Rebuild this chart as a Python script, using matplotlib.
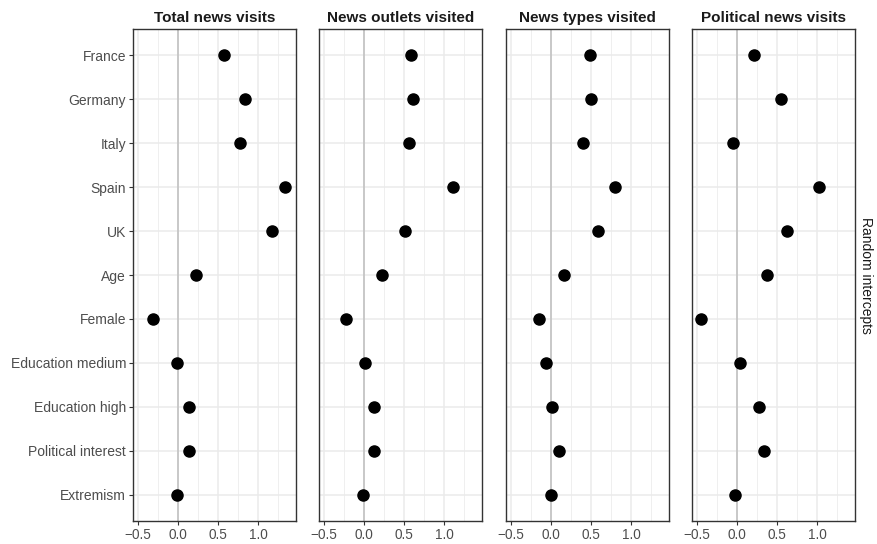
import matplotlib
matplotlib.use("Agg")
import matplotlib.pyplot as plt
from matplotlib.ticker import FixedLocator

plt.rcParams['font.family'] = ['Liberation Sans', 'DejaVu Sans']

categories = ["France", "Germany", "Italy", "Spain", "UK", "Age", "Female",
              "Education medium", "Education high", "Political interest", "Extremism"]
panels = ["Total news visits", "News outlets visited", "News types visited", "Political news visits"]

total_news = [0.58, 0.84, 0.78, 1.34, 1.18, 0.22, -0.31, -0.015, 0.14, 0.14, -0.012]
outlets = [0.59, 0.61, 0.56, 1.11, 0.51, 0.22, -0.23, 0.01, 0.12, 0.12, -0.017]
types = [0.49, 0.50, 0.40, 0.80, 0.59, 0.16, -0.145, -0.062, 0.008, 0.10, -0.004]
political = [0.21, 0.55, -0.054, 1.025, 0.63, 0.37, -0.45, 0.04, 0.27, 0.34, -0.03]
series = [total_news, outlets, types, political]

xticks = [-0.5, 0.0, 0.5, 1.0]
xticklabels = ["\u22120.5", "0.0", "0.5", "1.0"]
strip_right = "Random intercepts"

W, H = 878, 544
fig = plt.figure(figsize=(W / 100, H / 100), dpi=100)

lefts = [133, 319, 506, 692]
pw = 163
top, bottom = 29, 521
n = len(categories)
ypos = list(range(n))

for i, (name, vals) in enumerate(zip(panels, series)):
    ax = fig.add_axes([lefts[i] / W, 1 - bottom / H, pw / W, (bottom - top) / H])
    ax.set_xlim(-0.5625, 1.475)
    ax.set_ylim(n - 1 + 0.6, -0.6)
    ax.xaxis.set_major_locator(FixedLocator(xticks))
    ax.xaxis.set_minor_locator(FixedLocator([-0.25, 0.25, 0.75, 1.25]))
    ax.set_yticks(ypos)
    ax.grid(True, which='major', color='#ebebeb', linewidth=1.1)
    ax.grid(True, which='minor', axis='x', color='#ebebeb', linewidth=0.55)
    ax.set_axisbelow(True)
    ax.axvline(0, color='#bebebe', linewidth=1.1, zorder=1.5)
    ax.plot(vals, ypos, 'o', color='black', markersize=8, linestyle='none', zorder=3)
    ax.set_xticklabels(xticklabels, fontsize=9.8, color='#4d4d4d')
    if i == 0:
        ax.set_yticklabels(categories, fontsize=10, color='#4d4d4d')
        ax.tick_params(axis='y', length=3, width=0.8, color='#333333', pad=2)
    else:
        ax.set_yticklabels([])
        ax.tick_params(axis='y', length=0)
    ax.tick_params(axis='x', which='major', length=3, width=0.8, color='#333333', pad=2)
    ax.tick_params(axis='x', which='minor', length=0)
    for s in ax.spines.values():
        s.set_color('#333333')
        s.set_linewidth(1.0)
    ax.set_title(name, fontsize=11, fontweight='bold', color='#1a1a1a', pad=5)

fig.text(866 / W, 1 - 275 / H, strip_right, rotation=270, ha='center', va='center',
         fontsize=10, color='#1a1a1a')

fig.savefig("out.png", dpi=100)
